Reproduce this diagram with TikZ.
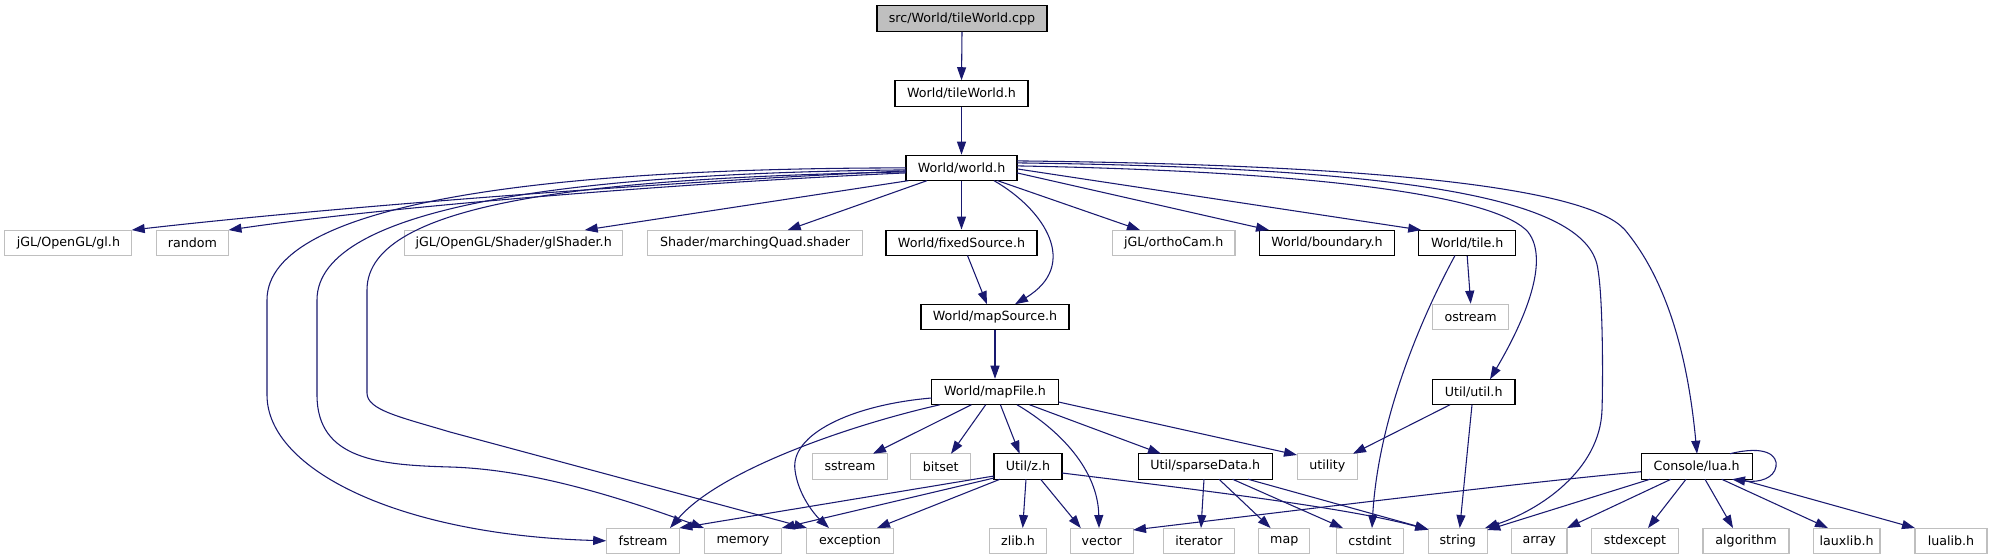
\documentclass[tikz,border=0pt]{standalone}
\usepackage{fontspec}
\setmainfont{DejaVu Sans}
\usetikzlibrary{arrows.meta}
\definecolor{edgec}{HTML}{191970}
\definecolor{sysc}{HTML}{BFBFBF}
\begin{document}
\begin{tikzpicture}[x=0.75pt,y=-0.75pt,
  box/.style={rectangle, inner sep=0pt, minimum height=19.1pt, font=\fontsize{9.5}{11}\selectfont, line width=0.8pt},
  doc/.style={box, draw=black, fill=white},
  sys/.style={box, draw=sysc, fill=white},
  root/.style={box, draw=black, fill=sysc},
  bw/.style={minimum width=#1*0.75pt},
  dep/.style={draw=edgec, line width=0.8pt, -{Triangle[length=9.75pt,width=6.75pt]}},
]
\fill[white] (0,0) rectangle (1992,560);
\useasboundingbox (0,0) rectangle (1992,560);
% nodes
\node[root,bw=170] (cpp) at (962,18.7) {src/World/tileWorld.cpp};
\node[doc,bw=133] (tileworldh) at (961.5,93.5) {World/tileWorld.h};
\node[doc,bw=111] (worldh) at (961.5,167.9) {World/world.h};
\node[sys,bw=127] (glh) at (68.4,242.8) {jGL/OpenGL/gl.h};
\node[sys,bw=72] (random) at (192.5,242.8) {random};
\node[sys,bw=218.5] (glshader) at (513.7,242.8) {jGL/OpenGL/Shader/glShader.h};
\node[sys,bw=214.5] (marching) at (755,242.8) {Shader/marchingQuad.shader};
\node[doc,bw=151] (fixedsource) at (961.5,242.8) {World/fixedSource.h};
\node[sys,bw=122.6] (orthocam) at (1173.7,242.8) {jGL/orthoCam.h};
\node[doc,bw=135] (boundary) at (1327,242.8) {World/boundary.h};
\node[doc,bw=96.8] (tile) at (1467.2,242.8) {World/tile.h};
\node[doc,bw=148] (mapsource) at (995,317) {World/mapSource.h};
\node[sys,bw=76] (ostream) at (1470.7,317) {ostream};
\node[doc,bw=127] (mapfile) at (995,392) {World/mapFile.h};
\node[doc,bw=82.6] (util) at (1473.7,392) {Util/util.h};
\node[sys,bw=75] (sstream) at (850,466.5) {sstream};
\node[sys,bw=59.5] (bitset) at (940.7,466.5) {bitset};
\node[doc,bw=68] (zh) at (1028,466.5) {Util/z.h};
\node[doc,bw=134] (sparse) at (1205.3,466.5) {Util/sparseData.h};
\node[sys,bw=60] (utility) at (1327.3,466.5) {utility};
\node[doc,bw=111] (lua) at (1696.6,466.5) {Console/lua.h};
\node[sys,bw=72.6] (fstream) at (643,540.8) {fstream};
\node[sys,bw=77.4] (memory) at (743,540.8) {memory};
\node[sys,bw=86.6] (exception) at (850,540.8) {exception};
\node[sys,bw=57] (zlib) at (1018,540.8) {zlib.h};
\node[sys,bw=62.5] (vector) at (1101.8,540.8) {vector};
\node[sys,bw=71.4] (iterator) at (1199,540.8) {iterator};
\node[sys,bw=51] (map) at (1284.3,540.8) {map};
\node[sys,bw=66.6] (cstdint) at (1370,540.8) {cstdint};
\node[sys,bw=59] (string) at (1457.8,540.8) {string};
\node[sys,bw=55.6] (array) at (1539.2,540.8) {array};
\node[sys,bw=87] (stdexcept) at (1635,540.8) {stdexcept};
\node[sys,bw=86] (algorithm) at (1746,540.8) {algorithm};
\node[sys,bw=66.8] (lauxlib) at (1846.6,540.8) {lauxlib.h};
\node[sys,bw=72] (lualib) at (1951,540.8) {lualib.h};
% edges
\draw[dep] (cpp.south) -- (tileworldh.north);
\draw[dep] (tileworldh.south) -- (worldh.north);
\draw[dep] (worldh.south) -- (fixedsource.north);
\draw[dep] ([shift={(-55.5,3)}]worldh.center) .. controls (700,180) and (350,205) .. ([shift={(63.3,-12.75)}]glh.center);
\draw[dep] ([shift={(-55.5,5)}]worldh.center) .. controls (700,182) and (400,205) .. ([shift={(36,-12.75)}]random.center);
\draw[dep] ([shift={(-53,12.75)}]worldh.center) -- ([shift={(71,-12.75)}]glshader.center);
\draw[dep] ([shift={(-34.5,12.75)}]worldh.center) -- ([shift={(32.7,-12.75)}]marching.center);
% long left curves
\draw[dep] ([shift={(-55.5,0)}]worldh.center) .. controls (560,168) and (267,200) .. (267,300)
  -- (267,395) .. controls (267,470) and (400,535) .. (fstream.west);
\draw[dep] ([shift={(-55.5,2)}]worldh.center) .. controls (580,173) and (317,205) .. (317,300)
  -- (317,395) .. controls (317,460) and (380,465) .. (450,467) .. controls (520,469) and (600,490) .. ([shift={(-39,-12.75)}]memory.center);
\draw[dep] ([shift={(-55.5,4)}]worldh.center) .. controls (600,178) and (367,200) .. (367,290)
  -- (367,393) .. controls (367,410) and (400,417) .. (450,432) -- ([shift={(-43,-12.75)}]exception.center);
% right side from world.h
\draw[dep] ([shift={(32.5,12.75)}]worldh.center) .. controls (1045,210) and (1080,265) .. ([shift={(20,-12.75)}]mapsource.center);
\draw[dep] ([shift={(6,12.75)}]fixedsource.center) -- ([shift={(-8,-12.75)}]mapsource.center);
\draw[dep] ([shift={(36,12.75)}]worldh.center) -- ([shift={(-33.7,-12.75)}]orthocam.center);
\draw[dep] ([shift={(55.5,5)}]worldh.center) -- ([shift={(-58,-12.75)}]boundary.center);
\draw[dep] ([shift={(55.5,1)}]worldh.center) -- ([shift={(-46,-12.75)}]tile.center);
\draw[dep] ([shift={(55.5,-2)}]worldh.center) .. controls (1350,172) and (1500,200) .. (1528,232)
  .. controls (1550,260) and (1525,320) .. ([shift={(16.3,-12.75)}]util.center);
\draw[dep] ([shift={(55.5,-5)}]worldh.center) .. controls (1420,168) and (1590,200) .. (1598,270)
  .. controls (1603,300) and (1603,380) .. (1602,410) .. controls (1600,470) and (1540,510) .. ([shift={(27.2,-12.75)}]string.center);
\draw[dep] ([shift={(55.5,-7)}]worldh.center) .. controls (1400,165) and (1590,190) .. (1625,230)
  .. controls (1675,290) and (1690,380) .. ([shift={(0.4,-12.75)}]lua.center);
% tile
\draw[dep] (tile.south) -- (ostream.north);
\draw[dep] ([shift={(-12.2,12.75)}]tile.center) .. controls (1420,320) and (1378,420) .. ([shift={(2,-12.75)}]cstdint.center);
% mapSource
\draw[dep] (mapsource.south) -- (mapfile.north);
% util
\draw[dep] ([shift={(-23.7,12.75)}]util.center) -- ([shift={(25.7,-12.75)}]utility.center);
\draw[dep] ([shift={(-1.7,12.75)}]util.center) -- ([shift={(1.9,-12.75)}]string.center);
% mapFile
\draw[dep] ([shift={(-55,12.75)}]mapfile.center) .. controls (850,425) and (720,470) .. ([shift={(27,-12.75)}]fstream.center);
\draw[dep] ([shift={(-63.5,6)}]mapfile.center) .. controls (850,405) and (790,435) .. (795,470)
  .. controls (798,495) and (815,515) .. ([shift={(-21,-12.75)}]exception.center);
\draw[dep] ([shift={(-23.6,12.75)}]mapfile.center) -- ([shift={(23,-12.75)}]sstream.center);
\draw[dep] ([shift={(-9.3,12.75)}]mapfile.center) -- ([shift={(10.3,-12.75)}]bitset.center);
\draw[dep] ([shift={(5.4,12.75)}]mapfile.center) -- ([shift={(-8.4,-12.75)}]zh.center);
\draw[dep] ([shift={(22,12.75)}]mapfile.center) .. controls (1060,430) and (1098,470) .. ([shift={(-2.8,-12.75)}]vector.center);
\draw[dep] ([shift={(34.5,12.75)}]mapfile.center) -- ([shift={(-44.3,-12.75)}]sparse.center);
\draw[dep] ([shift={(63.5,10)}]mapfile.center) -- ([shift={(-30.3,-11.5)}]utility.center);
% z.h
\draw[dep] ([shift={(-34,9.5)}]zh.center) -- ([shift={(36.3,-12.75)}]fstream.center);
\draw[dep] ([shift={(-34,11.5)}]zh.center) -- ([shift={(38.7,-12.75)}]memory.center);
\draw[dep] ([shift={(-28,12.75)}]zh.center) -- ([shift={(27,-12.75)}]exception.center);
\draw[dep] ([shift={(-2,12.75)}]zh.center) -- ([shift={(4.7,-12.75)}]zlib.center);
\draw[dep] ([shift={(12.6,12.75)}]zh.center) -- ([shift={(-21,-12.75)}]vector.center);
\draw[dep] ([shift={(34,6.5)}]zh.center) .. controls (1200,490) and (1350,508) .. ([shift={(-29.5,-11)}]string.center);
% sparseData
\draw[dep] ([shift={(-1.3,12.75)}]sparse.center) -- ([shift={(2,-12.75)}]iterator.center);
\draw[dep] ([shift={(13.7,12.75)}]sparse.center) -- ([shift={(-13.7,-12.75)}]map.center);
\draw[dep] ([shift={(27.3,12.75)}]sparse.center) -- ([shift={(-27,-12.75)}]cstdint.center);
\draw[dep] ([shift={(42.7,12.75)}]sparse.center) -- ([shift={(-29.5,-11.5)}]string.center);
% lua
\draw[dep] ([shift={(-55.6,5.2)}]lua.center) .. controls (1500,485) and (1300,510) .. ([shift={(31.2,-10.8)}]vector.center);
\draw[dep] ([shift={(-46.6,12.75)}]lua.center) -- ([shift={(29.5,-10.8)}]string.center);
\draw[dep] ([shift={(-25.6,12.75)}]lua.center) -- ([shift={(27.8,-12.75)}]array.center);
\draw[dep] ([shift={(-10.6,12.75)}]lua.center) -- ([shift={(13,-12.75)}]stdexcept.center);
\draw[dep] ([shift={(8.4,12.75)}]lua.center) -- ([shift={(-13,-12.75)}]algorithm.center);
\draw[dep] ([shift={(25.1,12.75)}]lua.center) -- ([shift={(-18.6,-12.75)}]lauxlib.center);
\draw[dep] ([shift={(43.4,12.75)}]lua.center) -- ([shift={(-36,-12.75)}]lualib.center);
\draw[dep] ([shift={(33.4,-12.75)}]lua.center) .. controls (1765,445) and (1778,455) .. (1776,466.5)
  .. controls (1774,478) and (1760,483) .. ([shift={(35.4,12.75)}]lua.center);
\end{tikzpicture}
\end{document}
